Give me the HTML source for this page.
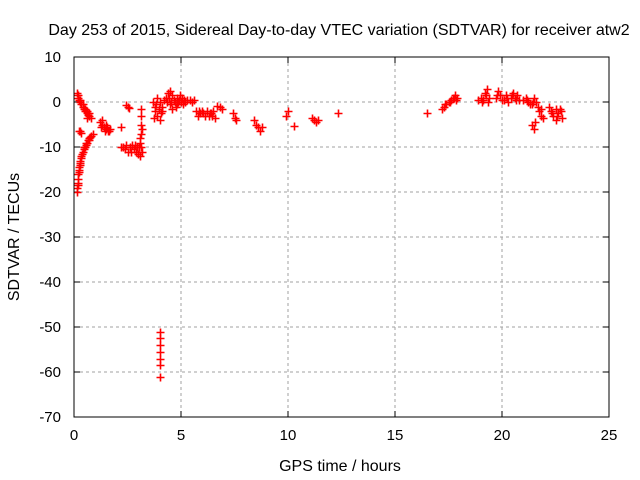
<!DOCTYPE html>
<html><head><meta charset="utf-8"><style>
body{margin:0;background:#fff}
svg{display:block;font-family:"Liberation Sans",sans-serif}
</style></head><body>
<svg id="chart" width="640" height="480" xmlns="http://www.w3.org/2000/svg">
<rect width="640" height="480" fill="#fff"/>
<text x="339" y="35" font-size="16" text-anchor="middle">Day 253 of 2015, Sidereal Day-to-day VTEC variation (SDTVAR) for receiver atw2</text>
<text x="340" y="471" font-size="16" text-anchor="middle">GPS time / hours</text>
<text transform="translate(19,237) rotate(-90)" font-size="16" text-anchor="middle">SDTVAR / TECUs</text>
<g id="grid"></g><g id="ticks"></g><g id="pts"></g>
<rect x="74" y="57" width="535" height="360" fill="none" stroke="#000" stroke-width="1"/>
</svg>
<script>
const xTicks=[0,5,10,15,20,25];
const yTicks=[10,0,-10,-20,-30,-40,-50,-60,-70];
const hours=[0.15,0.2,0.25,0.3,0.35,0.4,0.45,0.5,0.55,0.6,0.65,0.7,0.8,0.6,0.18,0.28,0.42,0.52,0.62,0.72,
0.25,0.3,0.35,
0.15,0.15,0.17,0.2,0.2,0.22,0.25,0.27,0.3,0.33,0.35,0.4,0.45,0.5,0.55,0.6,0.65,0.7,0.75,0.8,0.9,0.3,0.25,0.2,0.38,0.48,0.58,0.68,
1.2,1.3,1.4,1.5,1.6,1.3,1.5,1.7,1.25,1.45,1.55,1.65,
2.2,2.45,2.5,2.55,
2.2,2.3,2.4,2.5,2.6,2.7,2.8,2.9,3.0,3.1,3.05,2.45,2.65,2.85,2.95,
3.15,3.15,3.15,3.15,3.1,3.1,3.15,3.2,3.2,
4,4,4,4,4,4,4,
3.7,3.8,3.8,3.9,3.9,4,4,4.1,4.1,4.2,3.75,3.85,3.95,4.05,
4.3,4.4,4.5,4.6,4.5,4.7,4.8,4.9,5,5.1,5.2,5.3,5.5,4.6,4.8,5.6,4.35,4.45,4.55,4.65,4.75,4.85,4.95,5.05,5.15,5.4,
5.7,5.8,5.9,6.0,6.1,6.2,6.3,6.4,6.5,6.6,6.7,6.8,6.9,5.85,6.05,6.35,6.45,
7.45,7.5,7.55,8.4,8.5,8.6,8.7,8.8,
10,9.9,10.3,11.1,11.2,11.3,11.4,12.35,
16.5,17.2,17.3,17.4,17.5,17.6,17.7,17.8,17.9,17.35,17.55,17.75,17.85,
18.9,19.0,19.1,19.2,19.3,19.4,19.35,19.05,19.25,
19.7,19.8,19.9,20,19.75,
20.1,20.2,20.3,20.4,20.5,20.6,20.7,20.8,20.25,20.45,20.65,
21,21.1,21.2,21.3,21.4,21.5,21.6,21.15,21.45,
21.4,21.5,21.55,
21.7,21.75,21.8,21.9,21.8,
22.2,22.3,22.4,22.5,22.6,22.7,22.8,22.5,22.35,22.55,22.75];
const sdtvar=[2,1.5,0.5,0,-0.5,-1,-1.5,-1.5,-2,-2.5,-2.8,-3,-3.5,-3.5,1,0.5,-0.5,-2,-2,-2.5,
-6.5,-6.5,-6.8,
-20,-19,-18,-17,-16,-15,-14.5,-14,-13,-12.5,-12,-11,-10.5,-10,-9.5,-9,-8.5,-8,-7.8,-7.5,-7,-13.5,-15.5,-18.5,-11.5,-10,-9,-8.5,
-4.5,-5,-5.5,-6,-6.5,-4,-5,-6,-5.5,-6.5,-5.5,-6.5,
-5.5,-0.7,-1,-1.3,
-10,-10,-10.5,-11,-10,-9.5,-10.5,-11,-11.5,-12,-10,-9.5,-11,-9.5,-10,
-1.5,-3,-5,-7,-8,-9,-10,-11,-6,
-51,-52.5,-54,-55.5,-57,-58.5,-61,
0,-1,-2,1,-3,0,-4,-1,-2,0.5,-3.5,-0.5,-1.5,-2.5,
1,2,2.5,1.5,-0.5,0,1,0.5,0,-0.5,0,0.5,0,-1.5,-0.5,0.5,0,1,0,0.5,-1,0,1.5,1,0.5,0.5,
-2,-3,-2.5,-2,-3,-2,-3,-2.5,-2,-3.5,-0.8,-1.2,-1.5,-2,-2.5,-2.5,-3,
-2.5,-3.5,-4,-4,-5,-5.5,-6.5,-5.5,
-2,-3,-5.3,-3.5,-4,-4.5,-4,-2.5,
-2.5,-1.5,-1,-0.5,0,0.5,1,1.5,1,-0.5,0,1,0.5,
0.5,1,0.5,2,3,1,0,0,1.5,
1,2.5,1.5,0.5,1.5,
0.5,1.5,0,1,2,1,1.5,0.5,1,1.5,0.5,
0.5,1,0,-0.5,-0.5,1,0,0.5,0,
-5,-6,-4.5,
-1,-2,-3,-3.5,-1.5,
-1,-2,-3,-4,-2.5,-1.5,-3.5,-1.5,-2.5,-3,-2];
const X0=74,X1=609,Y0=57,Y1=417;
const sx=h=>X0+(h-0)/(25-0)*(X1-X0);
const sy=v=>Y0+(10-v)/(10-(-70))*(Y1-Y0);
const NS="http://www.w3.org/2000/svg";
const grid=document.getElementById('grid'),ticks=document.getElementById('ticks'),pts=document.getElementById('pts');
function mk(t,a){const e=document.createElementNS(NS,t);for(const k in a)e.setAttribute(k,a[k]);return e;}
xTicks.forEach(t=>{const x=sx(t);
 if(t>0&&t<25){const g=mk('line',{x1:x,y1:Y0,x2:x,y2:Y1,stroke:'#a0a0a0','stroke-dasharray':'3,3'});
 
 grid.appendChild(g);}
 const tk=mk('path',{d:`M${x},${Y1}v-6M${x},${Y0}v6`,stroke:'#000'});
 
 ticks.appendChild(tk);
 const l=mk('text',{x:x,y:Y1+23,'font-size':15,'text-anchor':'middle'});l.textContent=t;
 
 ticks.appendChild(l);});
yTicks.forEach(t=>{const y=sy(t);
 if(t<10&&t>-70){const g=mk('line',{x1:X0,y1:y,x2:X1,y2:y,stroke:'#a0a0a0','stroke-dasharray':'3,3'});
 
 grid.appendChild(g);}
 const tk=mk('path',{d:`M${X0},${y}h6M${X1},${y}h-6`,stroke:'#000'});
 
 ticks.appendChild(tk);
 const l=mk('text',{x:X0-13,y:y+5,'font-size':15,'text-anchor':'end'});l.textContent=t;
 
 ticks.appendChild(l);});
hours.forEach((h,i)=>{const x=Math.round(sx(h))+0.5,y=Math.round(sy(sdtvar[i]))+0.5;
 const p=mk('path',{d:`M${x-4},${y}h8M${x},${y-4}v8`,stroke:'#f00','stroke-width':1.6});
 
 pts.appendChild(p);});
</script>
</body></html>
